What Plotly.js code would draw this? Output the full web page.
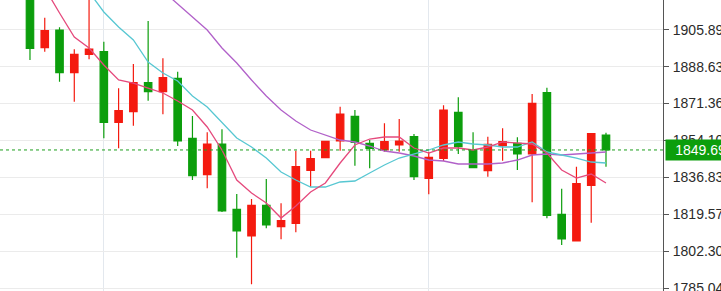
<!DOCTYPE html>
<html>
<head>
<meta charset="utf-8">
<script src="https://cdn.plot.ly/plotly-3.0.1.min.js"></script>
<style>html,body{margin:0;padding:0;background:#fff;}#chart{width:721px;height:291px;}</style>
</head>
<body>
<div id="chart"></div>
<script>
// Candle data
const openP  = [1924.44,1897.48,1905.75,1885.79,1894.39,1895.61,1862.62,1867.57,1881.12,1876.92,
                1883.18,1855.14,1838.13,1852.47,1821.96,1809.48,1823.83,1813.83,1815.42,1840.18,
                1846.07,1853.88,1865.42,1852.80,1849.67,1852.01,1855.89,1836.44,1845.79,1867.29,
                1849.81,1840.00,1851.68,1852.80,1847.80,1876.45,1819.62,1807.14,1833.17,1856.68];
const highP  = [1929.12,1911.50,1907.01,1896.73,1922.11,1900.28,1878.50,1889.86,1909.96,1892.52,
                1886.26,1865.56,1857.94,1859.34,1829.11,1826.77,1836.12,1824.76,1849.34,1849.34,
                1853.88,1869.91,1868.36,1854.34,1862.15,1864.16,1857.15,1848.88,1870.56,1874.30,
                1857.94,1855.89,1859.81,1855.61,1875.84,1878.78,1831.58,1841.87,1857.29,1857.76];
const lowP   = [1891.73,1895.61,1881.59,1872.24,1892.06,1855.14,1850.46,1861.03,1872.71,1866.35,
                1851.54,1835.65,1831.77,1820.70,1799.34,1786.91,1813.08,1807.94,1811.21,1832.52,
                1846.07,1849.34,1842.33,1841.12,1848.88,1848.88,1835.65,1828.97,1844.53,1847.80,
                1841.12,1837.19,1844.67,1840.32,1825.23,1817.75,1805.27,1807.14,1815.70,1841.87];
const closeP = [1897.20,1905.42,1885.79,1894.39,1896.87,1862.62,1868.04,1881.12,1876.92,1883.46,
                1853.88,1837.66,1852.47,1821.16,1811.82,1823.83,1814.62,1816.63,1841.87,1845.60,
                1853.74,1866.49,1853.27,1850.46,1853.55,1853.88,1837.19,1846.26,1868.36,1851.21,
                1841.40,1852.33,1853.55,1847.80,1871.49,1819.15,1808.08,1833.92,1857.29,1849.69];

// Moving average lines
const maFast = [1936.13,1925.38,1913.69,1902.48,1897.34,1889.39,1882.38,1880.98,1878.64,1876.31,
                1872.57,1868.36,1860.42,1849.67,1835.65,1829.58,1824.90,1817.89,1823.50,1830.04,
                1834.25,1843.59,1852.01,1854.81,1855.75,1855.75,1850.60,1848.27,1850.60,1850.60,
                1849.67,1851.07,1853.41,1852.94,1852.47,1848.27,1840.32,1836.58,1838.45,1834.25];
const maMid  = [null,null,null,1932.85,1923.51,1914.16,1907.15,1901.08,1890.80,1885.65,
                1881.92,1874.91,1869.77,1862.76,1855.28,1851.07,1845.93,1839.39,1835.65,1832.38,
                1832.38,1834.72,1835.18,1838.92,1842.66,1845.93,1847.80,1849.67,1852.01,1853.41,
                1852.47,1852.01,1851.07,1851.07,1853.41,1848.74,1847.33,1845.93,1844.06,1843.59];
const maSlow = [null,null,null,null,null,null,null,null,1930.05,1923.98,
                1917.90,1911.83,1905.75,1897.34,1890.33,1882.38,1874.91,1868.36,1863.22,1859.02,
                1856.68,1854.34,1853.41,1851.54,1849.20,1848.27,1846.87,1845.00,1844.53,1843.13,
                1843.13,1843.13,1843.59,1845.00,1847.33,1847.80,1847.33,1847.80,1848.27,1848.74];

const yTicks = [1785.04,1802.30,1819.57,1836.83,1854.10,1871.36,1888.63,1905.89];
const lastPrice = 1849.69;
const dateGridIdx = [5, 27];

const xs = openP.map((_, i) => i);
const UP = '#f41a0f', DOWN = '#0c9e0c';

const traces = [
  {
    type: 'candlestick', x: xs, open: openP, high: highP, low: lowP, close: closeP,
    increasing: {line: {color: UP, width: 1.2}, fillcolor: UP},
    decreasing: {line: {color: DOWN, width: 1.2}, fillcolor: DOWN},
    whiskerwidth: 0, hoverinfo: 'skip', showlegend: false
  },
  {type: 'scatter', mode: 'lines', x: xs, y: maSlow, line: {color: '#b161c9', width: 1.3}, showlegend: false, hoverinfo: 'skip'},
  {type: 'scatter', mode: 'lines', x: xs, y: maMid, line: {color: '#57c7d2', width: 1.3}, showlegend: false, hoverinfo: 'skip'},
  {type: 'scatter', mode: 'lines', x: xs, y: maFast, line: {color: '#e5497c', width: 1.3}, showlegend: false, hoverinfo: 'skip'}
];

const layout = {
  width: 721, height: 291,
  margin: {l: 0, r: 58, t: 0, b: 0, pad: 0},
  paper_bgcolor: '#ffffff', plot_bgcolor: '#ffffff',
  boxgap: 0.28,
  font: {family: 'Liberation Sans, Arial, sans-serif', size: 14, color: '#2b2b2b'},
  xaxis: {
    type: 'linear', range: [-2.03, 42.86],
    rangeslider: {visible: false},
    tickvals: dateGridIdx, showticklabels: false, ticks: '',
    showgrid: true, gridcolor: '#e3e8ee', gridwidth: 1,
    zeroline: false, showline: false, fixedrange: true
  },
  yaxis: {
    side: 'right', range: [1783.78, 1919.77],
    tickvals: yTicks, tickformat: '.2f',
    ticks: 'outside', ticklen: 5, tickcolor: '#555', tickwidth: 1,
    showline: true, linecolor: '#555', linewidth: 1,
    showgrid: true, gridcolor: '#ebebeb', gridwidth: 1,
    zeroline: false, ticklabelstandoff: 1, ticklabeloverflow: 'allow',
    tickfont: {family: 'Liberation Sans, Arial, sans-serif', size: 14, color: '#2b2b2b'}
  },
  shapes: [{
    type: 'line', xref: 'paper', x0: 0, x1: 1, yref: 'y', y0: lastPrice, y1: lastPrice,
    line: {color: '#1d9e1d', width: 1, dash: 'dot'}, layer: 'above'
  }],
  annotations: [{
    xref: 'paper', x: 1, xanchor: 'left', xshift: 2,
    yref: 'y', y: lastPrice, yanchor: 'middle',
    text: lastPrice.toFixed(2), showarrow: false,
    width: 58, align: 'right', height: 16,
    bgcolor: '#0c9e0c', borderpad: 2,
    font: {family: 'Liberation Sans, Arial, sans-serif', size: 14, color: '#ffffff'}
  }],
  showlegend: false
};

Plotly.newPlot('chart', traces, layout, {staticPlot: true, displayModeBar: false});
</script>
</body>
</html>
